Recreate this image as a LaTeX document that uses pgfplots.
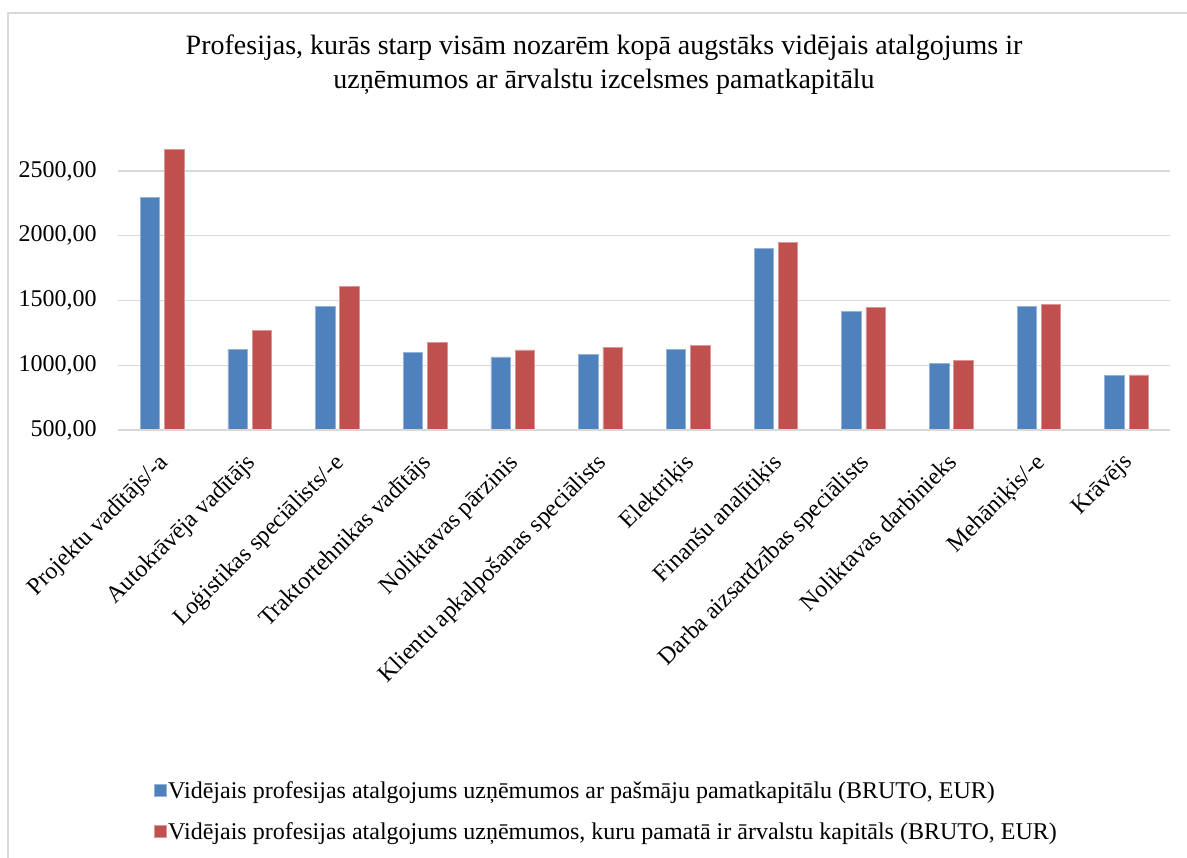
\documentclass[border=0pt]{standalone}
\usepackage{fontspec}
\setmainfont{Liberation Serif}
\usepackage{pgfplots}
\pgfplotsset{compat=1.18}
\definecolor{sblue}{HTML}{4F81BD}
\definecolor{sred}{HTML}{C0504D}
\definecolor{gridgray}{HTML}{D9D9D9}
\newcommand{\chfont}{\fontsize{18}{21.6}\selectfont}
\begin{document}
\begin{tikzpicture}
\useasboundingbox (-88.65pt,-320.25pt) rectangle (801.6pt,322.5pt);
\draw[gridgray, line width=1pt] (-82.65pt,-330pt) -- (-82.65pt,312.75pt) -- (820pt,312.75pt);
\begin{axis}[
  at={(0,0)}, anchor=south west,
  scale only axis,
  width=789.2pt, height=218.5pt,
  xmin=-0.5, xmax=11.5,
  ymin=500, ymax=2750,
  ytick={500,1000,1500,2000,2500},
  xtick={0,...,11},
  xticklabels={Projektu vadītājs/-a, Autokrāvēja vadītājs, Loģistikas speciālists/-e, Traktortehnikas vadītājs, Noliktavas pārzinis, Klientu apkalpošanas speciālists, Elektriķis, Finanšu analītiķis, Darba aizsardzības speciālists, Noliktavas darbinieks, Mehāniķis/-e, Krāvējs},
  axis line style={draw=none},
  major tick length=0pt,
  ymajorgrids,
  grid style={gridgray, line width=1pt},
  yticklabel={\pgfmathprintnumber[fixed,fixed zerofill,precision=2,use comma,1000 sep={}]{\tick}},
  /pgf/number format/assume math mode=true,
  yticklabel style={font=\chfont, anchor=east, inner sep=0pt, xshift=-16pt},
  xticklabel style={font=\chfont, rotate=45, anchor=north east, inner sep=0pt, xshift=-14.1pt, yshift=-8.8pt},
  ybar=3.6pt, bar width=14.6pt,
  legend style={at={(0.034,-1.2)}, anchor=north west, draw=none, fill=none, inner sep=0pt,
    font=\chfont, row sep=14.5pt, nodes={inner sep=1pt}},
  legend cell align=left,
  legend image code/.code={\fill[#1] (0pt,-4.5pt) rectangle (9pt,4.5pt);},
  clip=false,
]
\addplot[fill=sblue, draw=sblue!60!white, line width=0.5pt] coordinates {
(0,2299) (1,1125) (2,1455) (3,1100) (4,1064) (5,1087) (6,1125) (7,1905) (8,1413) (9,1017) (10,1455) (11,919)};
\addplot[fill=sred, draw=sred!60!white, line width=0.5pt] coordinates {
(0,2664) (1,1272) (2,1612) (3,1179) (4,1118) (5,1141) (6,1156) (7,1951) (8,1450) (9,1040) (10,1473) (11,925)};
\legend{{Vidējais profesijas atalgojums uzņēmumos ar pašmāju pamatkapitālu (BRUTO, EUR)}, {Vidējais profesijas atalgojums uzņēmumos, kuru pamatā ir ārvalstu kapitāls (BRUTO, EUR)}}
\draw[gridgray, line width=1pt] (rel axis cs:0,0) -- (rel axis cs:1,0);
\end{axis}
\node[font=\fontsize{21}{25.5}\selectfont, align=center] at (364.4pt,273.75pt) {Profesijas, kurās starp visām nozarēm kopā augstāks vidējais atalgojums ir\\ uzņēmumos ar ārvalstu izcelsmes pamatkapitālu};
\end{tikzpicture}
\end{document}
